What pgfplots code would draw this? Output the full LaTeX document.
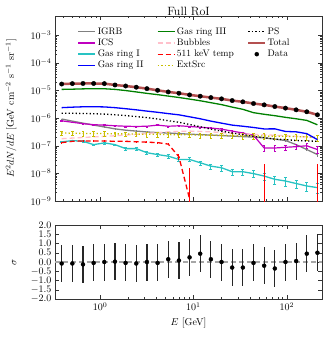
\documentclass[border=0pt]{standalone}
\usepackage{pgfplots}
\pgfplotsset{compat=1.18}
\usepackage{pgfplotstable}
\definecolor{cIGRB}{RGB}{128,128,128}
\definecolor{cICS}{RGB}{191,0,191}
\definecolor{cGa}{RGB}{40,195,195}
\definecolor{cGb}{RGB}{0,0,255}
\definecolor{cGc}{RGB}{0,128,0}
\definecolor{cBub}{RGB}{255,192,203}
\definecolor{cRed}{RGB}{255,0,0}
\definecolor{cExt}{RGB}{200,190,0}
\definecolor{cTot}{RGB}{180,80,80}

\pgfplotstableread{
E      data    datae   igrb    igrbe   ics     icse    ga      gae     gb      gc      bub     ext     exte    ps      res
0.389  1.72e-5 4e-7    9.3e-7  3e-8    8.0e-7  2e-8    1.38e-7 0.8e-8  2.40e-6 1.10e-5 1.8e-7  2.90e-7 0.5e-7  1.50e-6 -0.08
0.506  1.78e-5 4e-7    7.8e-7  3e-8    7.1e-7  2e-8    1.54e-7 0.9e-8  2.50e-6 1.12e-5 1.9e-7  2.85e-7 0.5e-7  1.50e-6 -0.08
0.658  1.80e-5 4e-7    6.6e-7  3e-8    6.3e-7  2e-8    1.45e-7 0.9e-8  2.58e-6 1.15e-5 2.0e-7  2.80e-7 0.5e-7  1.48e-6 -0.13
0.855  1.80e-5 4e-7    5.6e-7  2e-8    5.8e-7  2e-8    1.10e-7 0.8e-8  2.60e-6 1.16e-5 2.1e-7  2.80e-7 0.5e-7  1.45e-6 -0.05
1.112  1.78e-5 4e-7    4.8e-7  2e-8    5.6e-7  2e-8    1.27e-7 0.9e-8  2.55e-6 1.16e-5 2.2e-7  2.75e-7 0.5e-7  1.40e-6 0.0
1.445  1.59e-5 4e-7    4.1e-7  2e-8    5.3e-7  2e-8    1.10e-7 0.8e-8  2.40e-6 1.10e-5 2.3e-7  2.70e-7 0.5e-7  1.32e-6 0.02
1.879  1.46e-5 3e-7    3.67e-7 2e-8    5.1e-7  2e-8    7.9e-8  0.7e-8  2.20e-6 1.00e-5 2.45e-7 2.70e-7 0.5e-7  1.24e-6 -0.05
2.443  1.32e-5 3e-7    3.4e-7  2e-8    5.0e-7  2e-8    7.9e-8  0.7e-8  2.00e-6 8.9e-6  2.6e-7  2.65e-7 0.5e-7  1.14e-6 -0.08
3.177  1.17e-5 3e-7    3.16e-7 2e-8    5.1e-7  2e-8    5.6e-8  0.6e-8  1.80e-6 7.9e-6  2.8e-7  2.60e-7 0.5e-7  1.05e-6 0.0
4.130  1.02e-5 3e-7    3.0e-7  2e-8    5.6e-7  2e-8    4.8e-8  0.6e-8  1.63e-6 7.1e-6  3.0e-7  2.60e-7 0.5e-7  9.3e-7  -0.05
5.370  8.9e-6  2e-7    2.9e-7  2e-8    5.1e-7  2e-8    4.2e-8  0.6e-8  1.46e-6 6.3e-6  3.2e-7  2.55e-7 0.5e-7  8.1e-7  0.15
6.982  8.0e-6  2e-7    2.77e-7 2e-8    5.3e-7  2e-8    3.2e-8  0.5e-8  1.32e-6 5.6e-6  3.3e-7  2.50e-7 0.5e-7  7.1e-7  0.08
9.078  6.95e-6 2e-7    2.63e-7 2e-8    5.0e-7  2e-8    3.2e-8  0.5e-8  1.12e-6 4.9e-6  3.4e-7  2.50e-7 0.5e-7  5.9e-7  0.25
11.80  6.24e-6 2e-7    2.53e-7 2e-8    4.7e-7  2e-8    2.43e-8 0.45e-8 9.5e-7  4.27e-6 3.3e-7  2.45e-7 0.5e-7  4.9e-7  0.45
15.35  5.55e-6 2e-7    2.44e-7 2e-8    4.4e-7  2e-8    1.83e-8 0.4e-8  7.8e-7  3.63e-6 3.2e-7  2.40e-7 0.5e-7  4.0e-7  0.15
19.95  5.0e-6  2e-7    2.34e-7 2e-8    4.0e-7  2e-8    1.6e-8  0.35e-8 6.6e-7  3.09e-6 3.0e-7  2.40e-7 0.5e-7  3.4e-7  0.0
25.94  4.34e-6 2e-7    2.24e-7 2e-8    3.4e-7  2e-8    1.15e-8 0.3e-8  5.6e-7  2.51e-6 2.8e-7  2.35e-7 0.5e-7  2.9e-7  -0.3
33.73  3.9e-6  2e-7    2.15e-7 2e-8    2.9e-7  2e-8    1.15e-8 0.3e-8  5.1e-7  2.09e-6 2.7e-7  2.30e-7 0.5e-7  2.53e-7 -0.3
43.85  3.39e-6 1e-7    2.06e-7 2e-8    2.4e-7  2e-8    9.8e-9  0.28e-8 4.6e-7  1.58e-6 2.6e-7  2.30e-7 0.5e-7  2.2e-7  -0.05
57.02  3.03e-6 1e-7    1.93e-7 2e-8    8.3e-8  2e-8    8.0e-9  0.25e-8 4.07e-7 1.38e-6 2.5e-7  2.25e-7 0.5e-7  1.97e-7 -0.2
74.13  2.63e-6 1e-7    1.74e-7 2e-8    8.3e-8  2e-8    6.1e-9  0.2e-8  4.1e-7  1.23e-6 2.4e-7  2.20e-7 0.5e-7  1.74e-7 -0.35
96.4   2.31e-6 1e-7    1.55e-7 1e-8    8.8e-8  2e-8    5.3e-9  0.18e-8 3.3e-7  1.07e-6 2.3e-7  2.20e-7 0.5e-7  1.67e-7 0.0
125.3  2.0e-6  1e-7    1.1e-7  1e-8    9.3e-8  2e-8    4.3e-9  0.15e-8 3.2e-7  9.5e-7  2.2e-7  2.15e-7 0.5e-7  1.55e-7 0.05
162.9  1.7e-6  1e-7    7.3e-8  1e-8    1.0e-7  2e-8    3.5e-9  0.13e-8 2.75e-7 8.3e-7  2.1e-7  2.10e-7 0.5e-7  1.5e-7  0.45
211.8  1.32e-6 1e-7    4.8e-8  1e-8    7.3e-8  2e-8    3.05e-9 0.12e-8 1.67e-7 5.75e-7 2.0e-7  2.00e-7 0.5e-7  1.45e-7 0.5
}\tab

\pgfplotstableread{
E      p       ep      em
0.389  1.30e-7 1e-8    1e-8
0.506  1.45e-7 1e-8    1e-8
0.658  1.50e-7 1e-8    1e-8
0.855  1.50e-7 1e-8    1e-8
1.112  1.50e-7 1e-8    1e-8
1.445  1.45e-7 1e-8    1e-8
1.879  1.45e-7 1e-8    1e-8
2.443  1.40e-7 1e-8    1e-8
3.177  1.35e-7 1e-8    1e-8
4.130  1.30e-7 1e-8    1e-8
5.370  1.15e-7 1e-8    1e-8
6.982  4.0e-8  1e-8    1e-8
9.078  1.2e-9  1.5e-8  1.15e-9
}\tabred

\begin{document}
\begin{tikzpicture}
\path[use as bounding box] (-55pt,-140pt) rectangle (277pt,201pt);
\pgfplotsset{
  every axis/.append style={
    scale only axis, width=267pt,
    xmode=log, xmin=0.33, xmax=237,
    tick align=inside, major tick length=4pt, minor tick length=2pt,
    axis line style={line width=0.8pt, black!80},
    every tick/.style={black!80},
    tick label style={font=\fontsize{10}{12}\selectfont},
    label style={font=\fontsize{10}{12}\selectfont},
  },
  every axis y label/.style={at={(axis description cs:-0.131,0.5)}, rotate=90, anchor=south},
  every axis title shift=0pt,
}
\begin{axis}[name=top, at={(0pt,0pt)}, anchor=south west, height=185pt,
  ymode=log, ymin=1e-9, ymax=5e-3,
  ytick={1e-9,1e-8,1e-7,1e-6,1e-5,1e-4,1e-3},
  xticklabels={},
  ylabel={$E^2dN/dE$ [GeV cm$^{-2}$ s$^{-1}$ sr$^{-1}$]},
  title={Full RoI},
  title style={font=\fontsize{12}{14}\selectfont, at={(axis description cs:0.5,1)}, anchor=base, yshift=0.5pt},
  legend columns=3,
  legend cell align=left,
  legend style={draw=none, fill=none, at={(axis description cs:0,1)}, anchor=north west,
    xshift=22pt, yshift=-10pt, inner xsep=0pt, inner ysep=0pt,
    nodes={inner sep=1.5pt}, font=\fontsize{9.5}{11}\selectfont,
    /tikz/every even column/.append style={column sep=12pt}},
]
% legend images
\addlegendimage{cIGRB, line width=1.3pt}\addlegendentry{IGRB}
\addlegendimage{cGc, line width=1.3pt}\addlegendentry{Gas ring III}
\addlegendimage{black, line width=1.3pt, dash pattern=on 1.3pt off 2.2pt}\addlegendentry{PS}
\addlegendimage{cICS, line width=1.3pt}\addlegendentry{ICS}
\addlegendimage{cBub, line width=1.3pt, dash pattern=on 5pt off 3pt}\addlegendentry{Bubbles}
\addlegendimage{cTot, line width=1.6pt}\addlegendentry{Total}
\addlegendimage{cGa, line width=2pt}\addlegendentry{Gas ring I}
\addlegendimage{cRed, line width=1.3pt, dash pattern=on 5pt off 3pt}\addlegendentry{511 keV temp}
\addlegendimage{only marks, mark=*, mark size=2pt, black}\addlegendentry{Data}
\addlegendimage{cGb, line width=1.3pt}\addlegendentry{Gas ring II}
\addlegendimage{cExt, line width=1.3pt, dash pattern=on 1.3pt off 2.2pt}\addlegendentry{ExtSrc}
\addlegendimage{empty legend}\addlegendentry{}
% curves
\addplot[forget plot, cIGRB, line width=1.3pt, error bars/.cd, y dir=both, y explicit, error mark=none, error bar style={line width=0.8pt}]
  table[x=E, y=igrb, y error=igrbe] {\tab};
\addplot[forget plot, cICS, line width=1.2pt, error bars/.cd, y dir=both, y explicit, error mark options={rotate=90, mark size=1.2pt}, error bar style={line width=0.8pt}]
  table[x=E, y=ics, y error=icse] {\tab};
\addplot[forget plot, cBub, line width=1.3pt, dash pattern=on 5pt off 3pt]
  table[x=E, y=bub] {\tab};
\addplot[forget plot, cExt, line width=1.3pt, dash pattern=on 1.3pt off 2.2pt, error bars/.cd, y dir=both, y explicit, error mark options={rotate=90, mark size=1.2pt}, error bar style={line width=0.9pt, solid}]
  table[x=E, y=ext, y error=exte] {\tab};
\addplot[forget plot, cGa, line width=1.3pt, error bars/.cd, y dir=both, y explicit, error mark options={rotate=90, mark size=1.5pt}, error bar style={line width=0.9pt}]
  table[x=E, y=ga, y error=gae] {\tab};
\addplot[forget plot, cRed, line width=1.3pt, dash pattern=on 5pt off 3pt, error bars/.cd, y dir=both, y explicit, error mark=none, error bar style={line width=1pt, solid}]
  table[x=E, y=p, y error plus=ep, y error minus=em] {\tabred};
\addplot[forget plot, cRed, line width=1.2pt] coordinates {(57.02,1e-10) (57.02,2.1e-8)};
\addplot[forget plot, cRed, line width=1.2pt] coordinates {(211.8,1e-10) (211.8,2.2e-8)};
\addplot[forget plot, black, line width=1.3pt, dash pattern=on 1.3pt off 2.2pt]
  table[x=E, y=ps] {\tab};
\addplot[forget plot, cGb, line width=1.3pt] table[x=E, y=gb] {\tab};
\addplot[forget plot, cGc, line width=1.3pt] table[x=E, y=gc] {\tab};
\addplot[forget plot, cTot, line width=2.5pt] table[x=E, y=data] {\tab};
\addplot[forget plot, only marks, mark=*, mark size=2.2pt, black, error bars/.cd, y dir=both, y explicit, error mark=none]
  table[x=E, y=data, y error=datae] {\tab};
\end{axis}

\begin{axis}[name=bot, at={(0pt,-24pt)}, anchor=north west, height=74pt,
  ymin=-2, ymax=2, ytick={-2,-1.5,...,2},
  yticklabel style={/pgf/number format/.cd, fixed, fixed zerofill, precision=1},
  xlabel={$E$ [GeV]},
  ylabel={$\sigma$},
  xtick={1,10,100},
]
\addplot[gray!70, line width=1.5pt, dash pattern=on 5pt off 3pt] coordinates {(0.33,0) (237,0)};
\addplot[only marks, mark=*, mark size=2pt, black, error bars/.cd, y dir=both, y fixed=1, error mark=none, error bar style={line width=1.2pt, black!85}]
  table[x=E, y=res] {\tab};
\end{axis}
\end{tikzpicture}
\end{document}
